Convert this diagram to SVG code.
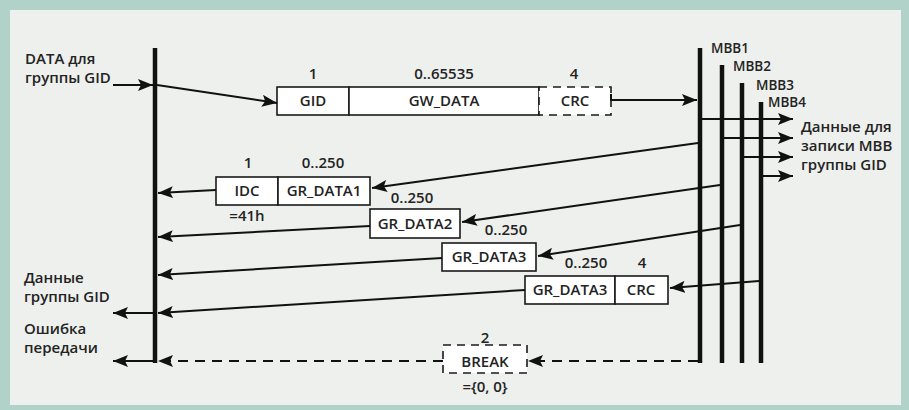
<svg xmlns="http://www.w3.org/2000/svg" width="909" height="410" viewBox="0 0 909 410">
<defs>
<style>
text{font-family:"Open Sans","Noto Sans","Liberation Sans",sans-serif;font-size:15px;font-weight:600;fill:#232323}
.m{text-anchor:middle}
.sm{font-size:13.5px}
.box{fill:#ffffff;stroke:#1a1a1a;stroke-width:1.6}
.dbox{fill:#ffffff;stroke:#1a1a1a;stroke-width:1.6;stroke-dasharray:8 6}
.bar{stroke:#111;stroke-width:4.5;fill:none}
.ln{stroke:#111;stroke-width:2;fill:none}
.dl{stroke:#111;stroke-width:2;fill:none;stroke-dasharray:10 7}
</style>
<marker id="ah" markerUnits="userSpaceOnUse" markerWidth="16" markerHeight="12" refX="15" refY="6" orient="auto">
<path d="M0,0 L15,6 L0,12 L3,6 z" fill="#111"/>
</marker>
</defs>
<rect x="0" y="0" width="909" height="410" fill="#b0d2c9"/>
<rect x="10" y="10" width="891" height="395" fill="#edf0ed"/>

<g id="sender">
<line class="bar" x1="155" y1="48" x2="155" y2="363"/>
<text x="25" y="64">DATA для</text>
<text x="25" y="83">группы GID</text>
<text x="24" y="283">Данные</text>
<text x="24" y="302">группы GID</text>
<text x="24" y="334">Ошибка</text>
<text x="24" y="353">передачи</text>
</g>

<g id="mbb">
<line class="bar" x1="700" y1="48" x2="700" y2="363"/>
<line class="bar" x1="722" y1="65" x2="722" y2="363"/>
<line class="bar" x1="742" y1="83" x2="742" y2="363"/>
<line class="bar" x1="761" y1="102" x2="761" y2="363"/>
<text class="sm" x="711" y="53">MBB1</text>
<text class="sm" x="733" y="71">MBB2</text>
<text class="sm" x="756" y="90">MBB3</text>
<text class="sm" x="768" y="107">MBB4</text>
<text x="801" y="132">Данные для</text>
<text x="801" y="151">записи MBB</text>
<text x="801" y="170">группы GID</text>
</g>

<g id="frame-gw">
<rect class="box" x="277" y="87" width="72" height="28"/>
<rect class="box" x="349" y="87" width="190" height="28"/>
<rect class="dbox" x="539" y="87" width="72" height="28"/>
<text class="m" x="313" y="106">GID</text>
<text class="m" x="444" y="106">GW_DATA</text>
<text class="m" x="575" y="106">CRC</text>
<text class="m" x="313" y="79">1</text>
<text class="m" x="444" y="79">0..65535</text>
<text class="m" x="574" y="79">4</text>
</g>

<g id="frame-gr1">
<rect class="box" x="216" y="177" width="62" height="28"/>
<rect class="box" x="278" y="177" width="92" height="28"/>
<text class="m" x="247" y="196">IDC</text>
<text class="m" x="324" y="196">GR_DATA1</text>
<text class="m" x="248" y="168">1</text>
<text class="m" x="323" y="168">0..250</text>
<text class="m" x="247" y="221">=41h</text>
</g>

<g id="frame-gr2">
<rect class="box" x="370" y="209" width="90" height="29"/>
<text class="m" x="415" y="229">GR_DATA2</text>
<text class="m" x="412" y="203">0..250</text>
</g>

<g id="frame-gr3">
<rect class="box" x="442" y="243" width="94" height="28"/>
<text class="m" x="489" y="262">GR_DATA3</text>
<text class="m" x="506" y="235">0..250</text>
</g>

<g id="frame-gr3crc">
<rect class="box" x="525" y="276" width="90" height="28"/>
<rect class="box" x="615" y="276" width="53" height="28"/>
<text class="m" x="570" y="295">GR_DATA3</text>
<text class="m" x="641" y="295">CRC</text>
<text class="m" x="586" y="268">0..250</text>
<text class="m" x="642" y="268">4</text>
</g>

<g id="frame-break">
<rect class="dbox" x="443" y="345" width="84" height="28"/>
<text class="m" x="485" y="367">BREAK</text>
<text class="m" x="485" y="343">2</text>
<text class="m" x="485" y="392">={0, 0}</text>
</g>

<g id="connectors">
<line class="ln" x1="113" y1="85" x2="153" y2="85" marker-end="url(#ah)"/>
<line class="ln" x1="157" y1="85" x2="277" y2="103" marker-end="url(#ah)"/>
<polyline class="ln" points="611,94 611,100 697,100" marker-end="url(#ah)"/>
<line class="ln" x1="700" y1="119" x2="793" y2="119" marker-end="url(#ah)"/>
<line class="ln" x1="722" y1="138" x2="793" y2="138" marker-end="url(#ah)"/>
<line class="ln" x1="742" y1="157" x2="793" y2="157" marker-end="url(#ah)"/>
<line class="ln" x1="761" y1="176" x2="793" y2="176" marker-end="url(#ah)"/>
<line class="ln" x1="698" y1="143" x2="372" y2="188" marker-end="url(#ah)"/>
<line class="ln" x1="720" y1="185" x2="462" y2="222" marker-end="url(#ah)"/>
<line class="ln" x1="740" y1="225" x2="538" y2="256" marker-end="url(#ah)"/>
<line class="ln" x1="759" y1="281" x2="670" y2="288" marker-end="url(#ah)"/>
<line class="ln" x1="216" y1="190" x2="158" y2="193" marker-end="url(#ah)"/>
<line class="ln" x1="370" y1="226" x2="158" y2="237" marker-end="url(#ah)"/>
<line class="ln" x1="442" y1="258" x2="158" y2="275" marker-end="url(#ah)"/>
<line class="ln" x1="525" y1="290" x2="158" y2="313" marker-end="url(#ah)"/>
<line class="ln" x1="155" y1="313" x2="113" y2="313" marker-end="url(#ah)"/>
<line class="dl" x1="698" y1="361" x2="528" y2="361" marker-end="url(#ah)"/>
<line class="dl" x1="443" y1="361" x2="158" y2="361" marker-end="url(#ah)"/>
<line class="ln" x1="155" y1="361" x2="113" y2="361" marker-end="url(#ah)"/>
</g>
</svg>
